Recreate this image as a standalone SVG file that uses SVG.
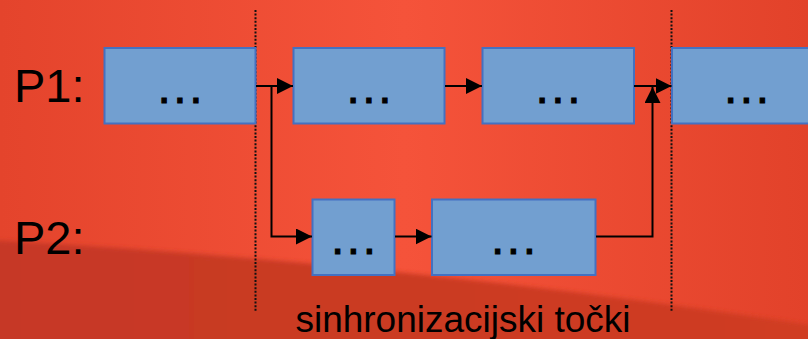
<svg xmlns="http://www.w3.org/2000/svg" width="808" height="339" viewBox="0 0 808 339">
  <defs>
    <linearGradient id="bg" x1="0" y1="0" x2="1" y2="0">
      <stop offset="0" stop-color="#E4442C"/>
      <stop offset="0.5" stop-color="#F5533A"/>
      <stop offset="1" stop-color="#E2422A"/>
    </linearGradient>
    <linearGradient id="band" x1="0" y1="0" x2="1" y2="0">
      <stop offset="0" stop-color="#C63925"/>
      <stop offset="1" stop-color="#D03C24"/>
    </linearGradient>
    <filter id="soft" x="-5%" y="-20%" width="110%" height="140%">
      <feGaussianBlur stdDeviation="2"/>
    </filter>
    <marker id="arrow" markerUnits="userSpaceOnUse" markerWidth="16" markerHeight="16" refX="16" refY="8" orient="auto">
      <path d="M0,0 L16,8 L0,16 z" fill="#000"/>
    </marker>
    <style>
      .box { fill: #729FD0; stroke: #4471C1; stroke-width: 2; }
      .dots { font-family: "Liberation Sans", Arial, sans-serif; font-size: 46px; letter-spacing: 3px; fill: #000; stroke: #000; stroke-width: 1.1; text-anchor: middle; }
      .label { font-family: "Liberation Sans", Arial, sans-serif; font-size: 47px; fill: #000; }
      .caption { font-family: "Liberation Sans", Arial, sans-serif; font-size: 37px; fill: #000; text-anchor: middle; }
      .sync { stroke: #111; stroke-width: 2; stroke-dasharray: 2 1.6; fill: none; }
      .conn { stroke: #000; stroke-width: 2; fill: none; marker-end: url(#arrow); }
    </style>
  </defs>

  <!-- background -->
  <rect x="0" y="0" width="808" height="339" fill="url(#bg)"/>
  <path d="M-10,240 Q400,262 818,326 L818,349 L-10,349 Z" fill="url(#band)" filter="url(#soft)"/>

  <!-- synchronisation lines -->
  <g id="sync-lines">
    <line class="sync" x1="255.5" y1="10" x2="255.5" y2="312"/>
    <line class="sync" x1="671.5" y1="10" x2="671.5" y2="312"/>
  </g>

  <!-- process labels -->
  <text class="label" x="14" y="102">P1:</text>
  <text class="label" x="14" y="254">P2:</text>

  <!-- P1 tasks -->
  <g id="p1-a">
    <rect class="box" x="104.5" y="48" width="151" height="75.5"/>
    <text class="dots" x="181.5" y="103">...</text>
  </g>
  <g id="p1-b">
    <rect class="box" x="293.5" y="48" width="151" height="75.5"/>
    <text class="dots" x="370.5" y="103">...</text>
  </g>
  <g id="p1-c">
    <rect class="box" x="482.5" y="48" width="151.5" height="75.5"/>
    <text class="dots" x="559.5" y="103">...</text>
  </g>
  <g id="p1-d">
    <rect class="box" x="672" y="48" width="150" height="75.5"/>
    <text class="dots" x="748" y="103">...</text>
  </g>

  <!-- P2 tasks -->
  <g id="p2-a">
    <rect class="box" x="312.5" y="199.5" width="82" height="75.5"/>
    <text class="dots" x="355" y="254">...</text>
  </g>
  <g id="p2-b">
    <rect class="box" x="432" y="199.5" width="163.5" height="75.5"/>
    <text class="dots" x="515" y="254">...</text>
  </g>

  <!-- connectors -->
  <g id="connectors">
    <path class="conn" d="M256,86 H293"/>
    <path class="conn" d="M271.5,86 V236.5 H312"/>
    <path class="conn" d="M395,236.5 H431.5"/>
    <path class="conn" d="M445,86 H482"/>
    <path class="conn" d="M634,86 H671.5"/>
    <path class="conn" d="M596,236.5 H652.5 V87"/>
  </g>

  <!-- caption -->
  <text class="caption" x="463" y="332">sinhronizacijski točki</text>
</svg>
